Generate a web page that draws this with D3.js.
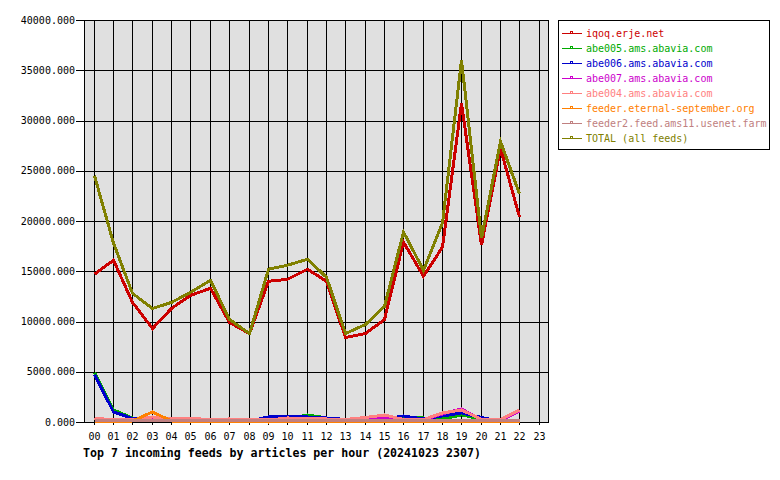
<!DOCTYPE html>
<html><head><meta charset="utf-8">
<script src="https://cdn.jsdelivr.net/npm/d3@7"></script>
<style>
body{margin:0;background:#fff;}
svg text{font-family:"DejaVu Sans Mono",monospace;}
</style></head>
<body><svg id="c" width="780" height="480"></svg>
<script>
const hours = ["00","01","02","03","04","05","06","07","08","09","10","11","12","13","14","15","16","17","18","19","20","21","22","23"];
const yTicks = [0,5000,10000,15000,20000,25000,30000,35000,40000];
const seriesNames = ["iqoq.erje.net","abe005.ams.abavia.com","abe006.ams.abavia.com","abe007.ams.abavia.com","abe004.ams.abavia.com","feeder.eternal-september.org","feeder2.feed.ams11.usenet.farm","TOTAL (all feeds)"];
const seriesColors = ["#cc0000","#00aa00","#0000cc","#cc00cc","#ff8080","#ff8000","#c08080","#808000"];
const iqoq   = [14700,16100,11900,9300,11300,12600,13300,9900,8800,14000,14200,15200,14000,8400,8800,10200,17900,14500,17400,31700,17600,27200,20400];
const abe005 = [4900,1200,400,100,100,100,100,100,100,300,300,700,400,200,200,200,400,400,300,700,300,100,100];
const abe006 = [4700,1000,350,100,200,100,100,100,100,500,500,500,400,250,200,300,600,300,600,900,450,50,100];
const abe007 = [100,100,100,200,300,200,150,150,100,150,250,200,200,200,250,400,200,200,800,1300,200,100,1100];
const abe004 = [350,250,200,500,350,350,250,300,200,200,400,350,300,250,450,700,250,250,900,1200,250,250,1200];
const eternal = [50,50,100,1000,100,50,30,30,30,0,50,50,30,30,30,30,0,30,30,30,30,30,30];
const feeder2 = [180,180,180,180,180,180,180,180,180,180,180,180,180,180,180,180,180,180,180,180,180,180,180];
const total  = [24500,17800,12800,11300,11900,12900,14100,10200,8800,15200,15600,16200,14400,8800,9700,11500,18900,15100,19800,36000,18300,27900,22700];
const seriesData = [iqoq,abe005,abe006,abe007,abe004,eternal,feeder2,total];
const title = "Top 7 incoming feeds by articles per hour (20241023 2307)";

const svg = d3.select("#c");
const L=84, R=548.5, T=20, B=422;
const x = d3.scaleBand().domain(hours).range([L,R]);
const cx = h => Math.round(x(h)+x.bandwidth()/2)+0.5;
const y = d3.scaleLinear().domain([0,40000]).range([B,T]);

svg.append("rect").attr("x",L).attr("y",T).attr("width",R-L).attr("height",B-T).attr("fill","#e0e0e0");

// grid
const g = svg.append("g").attr("shape-rendering","crispEdges");
g.selectAll(".hg").data(yTicks).join("line")
  .attr("x1",L-8).attr("x2",R).attr("y1",d=>Math.round(y(d))+0.5).attr("y2",d=>Math.round(y(d))+0.5)
  .attr("stroke","#000").attr("stroke-width",1);
g.selectAll(".vg").data(hours).join("line")
  .attr("x1",d=>cx(d)).attr("x2",d=>cx(d)).attr("y1",T).attr("y2",B+3)
  .attr("stroke","#000").attr("stroke-width",1);
g.append("rect").attr("x",L+0.5).attr("y",T+0.5).attr("width",R-L-1).attr("height",B-T).attr("fill","none").attr("stroke","#000");

// y labels
svg.selectAll(".yl").data(yTicks).join("text")
  .attr("x",75).attr("y",d=>y(d)+3.5).attr("text-anchor","end")
  .attr("font-size","10px").attr("fill","#000").text(d=>d3.format(".3f")(d));
// x labels
svg.selectAll(".xl").data(hours).join("text")
  .attr("x",d=>cx(d)).attr("y",439.5).attr("text-anchor","middle")
  .attr("font-size","10px").attr("fill","#000").text(d=>d);
svg.append("text").attr("x",83).attr("y",456.5).attr("font-size","11.6px").attr("font-weight","bold").attr("fill","#000").text(title);

// lines
const line = d3.line().x((d,i)=>cx(hours[i])).y(d=>y(d));
seriesData.forEach((s,k)=>{
  svg.append("path").attr("d",line(s)).attr("fill","none")
    .attr("stroke",seriesColors[k]).attr("stroke-width",3)
    .attr("stroke-linejoin","miter").attr("shape-rendering","crispEdges");
});

// legend
const lg = svg.append("g");
lg.append("rect").attr("x",558.5).attr("y",20.5).attr("width",211).attr("height",129).attr("fill","#fff").attr("stroke","#000").attr("shape-rendering","crispEdges");
seriesNames.forEach((n,k)=>{
  const yy = 33+15*k;
  lg.append("line").attr("x1",562).attr("x2",582).attr("y1",yy+0.5).attr("y2",yy+0.5).attr("stroke",seriesColors[k]).attr("shape-rendering","crispEdges");
  lg.append("rect").attr("x",570.5).attr("y",yy-1.5).attr("width",2).attr("height",2).attr("fill","none").attr("stroke",seriesColors[k]).attr("shape-rendering","crispEdges");
  lg.append("text").attr("x",586).attr("y",yy+3.5).attr("font-size","10px").attr("fill",seriesColors[k]).text(n);
});
</script></body></html>
